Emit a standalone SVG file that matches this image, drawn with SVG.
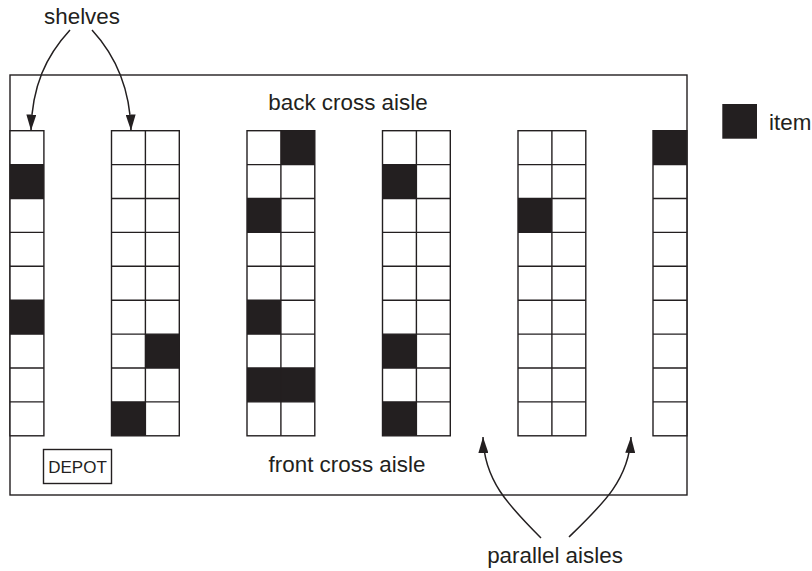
<svg xmlns="http://www.w3.org/2000/svg" width="812" height="571" viewBox="0 0 812 571">
<style>
.frame{fill:#fff;stroke:#231f20;stroke-width:1.4}
.shelf{fill:#fff;stroke:#231f20;stroke-width:1.4}
.grid{fill:none;stroke:#231f20;stroke-width:1.4}
.item{fill:#231f20}
.lbl{font-family:"Liberation Sans",Arial,sans-serif;font-size:22.4px;fill:#231f20}
.arrow{fill:none;stroke:#231f20;stroke-width:1.5;marker-end:url(#ah)}
</style>
<defs>
<marker id="ah" viewBox="0 0 16 10" refX="16" refY="5" markerWidth="16" markerHeight="10" markerUnits="userSpaceOnUse" orient="auto">
<path d="M0,0 L16,5 L0,10 Z" fill="#231f20"/>
</marker>
</defs>
<rect width="812" height="571" fill="#fff"/>
<g id="warehouse">
<rect class="frame" x="10" y="75" width="677" height="420"/>
</g>
<g id="back-cross-aisle"><text class="lbl" x="348" y="110" text-anchor="middle">back cross aisle</text></g>
<g id="front-cross-aisle"><text class="lbl" x="347" y="472" text-anchor="middle">front cross aisle</text></g>
<g id="depot">
<rect x="43.5" y="449.5" width="68" height="34" fill="#fff" stroke="#231f20" stroke-width="1.4"/>
<text x="77.5" y="473" text-anchor="middle" style="font-family:'Liberation Sans',Arial,sans-serif;font-size:17px;fill:#231f20">DEPOT</text>
</g>
<g id="shelf1">
<rect class="shelf" x="10" y="130.7" width="33.9" height="305.1"/>
<rect class="item" x="10" y="164.6" width="33.9" height="33.9"/>
<rect class="item" x="10" y="300.2" width="33.9" height="33.9"/>
<path class="grid" d="M10,164.6h33.9M10,198.5h33.9M10,232.4h33.9M10,266.3h33.9M10,300.2h33.9M10,334.1h33.9M10,368h33.9M10,401.9h33.9"/>
</g>
<g id="shelf2">
<rect class="shelf" x="111.5" y="130.7" width="67.8" height="305.1"/>
<rect class="item" x="111.5" y="401.9" width="33.9" height="33.9"/>
<rect class="item" x="145.4" y="334.1" width="33.9" height="33.9"/>
<path class="grid" d="M111.5,164.6h67.8M111.5,198.5h67.8M111.5,232.4h67.8M111.5,266.3h67.8M111.5,300.2h67.8M111.5,334.1h67.8M111.5,368h67.8M111.5,401.9h67.8M145.4,130.7v305.1"/>
</g>
<g id="shelf3">
<rect class="shelf" x="247" y="130.7" width="67.8" height="305.1"/>
<rect class="item" x="280.9" y="130.7" width="33.9" height="33.9"/>
<rect class="item" x="247" y="198.5" width="33.9" height="33.9"/>
<rect class="item" x="247" y="300.2" width="33.9" height="33.9"/>
<rect class="item" x="247" y="368" width="67.8" height="33.9"/>
<path class="grid" d="M247,164.6h67.8M247,198.5h67.8M247,232.4h67.8M247,266.3h67.8M247,300.2h67.8M247,334.1h67.8M247,368h67.8M247,401.9h67.8M280.9,130.7v305.1"/>
</g>
<g id="shelf4">
<rect class="shelf" x="382.5" y="130.7" width="67.8" height="305.1"/>
<rect class="item" x="382.5" y="164.6" width="33.9" height="33.9"/>
<rect class="item" x="382.5" y="334.1" width="33.9" height="33.9"/>
<rect class="item" x="382.5" y="401.9" width="33.9" height="33.9"/>
<path class="grid" d="M382.5,164.6h67.8M382.5,198.5h67.8M382.5,232.4h67.8M382.5,266.3h67.8M382.5,300.2h67.8M382.5,334.1h67.8M382.5,368h67.8M382.5,401.9h67.8M416.4,130.7v305.1"/>
</g>
<g id="shelf5">
<rect class="shelf" x="518" y="130.7" width="67.8" height="305.1"/>
<rect class="item" x="518" y="198.5" width="33.9" height="33.9"/>
<path class="grid" d="M518,164.6h67.8M518,198.5h67.8M518,232.4h67.8M518,266.3h67.8M518,300.2h67.8M518,334.1h67.8M518,368h67.8M518,401.9h67.8M551.9,130.7v305.1"/>
</g>
<g id="shelf6">
<rect class="shelf" x="653" y="130.7" width="33.9" height="305.1"/>
<rect class="item" x="653" y="130.7" width="33.9" height="33.9"/>
<path class="grid" d="M653,164.6h33.9M653,198.5h33.9M653,232.4h33.9M653,266.3h33.9M653,300.2h33.9M653,334.1h33.9M653,368h33.9M653,401.9h33.9"/>
</g>
<g id="legend">
<rect class="item" x="722.3" y="104" width="34.7" height="34.7"/>
<text class="lbl" x="769" y="130">item</text>
</g>
<g id="shelves-label"><text class="lbl" x="82" y="24" text-anchor="middle">shelves</text></g>
<g id="parallel-aisles-label"><text class="lbl" x="555" y="563" text-anchor="middle">parallel aisles</text></g>
<g id="connectors">
<path class="arrow" d="M70,30 C46,56 32,86 31,130.5"/>
<path class="arrow" d="M92,30 C115,55 130,86 131,130.5"/>
<path class="arrow" d="M541,538 C508,505 484,480 483,437"/>
<path class="arrow" d="M569,537 C602,505 629,480 631,437"/>
</g>
</svg>
